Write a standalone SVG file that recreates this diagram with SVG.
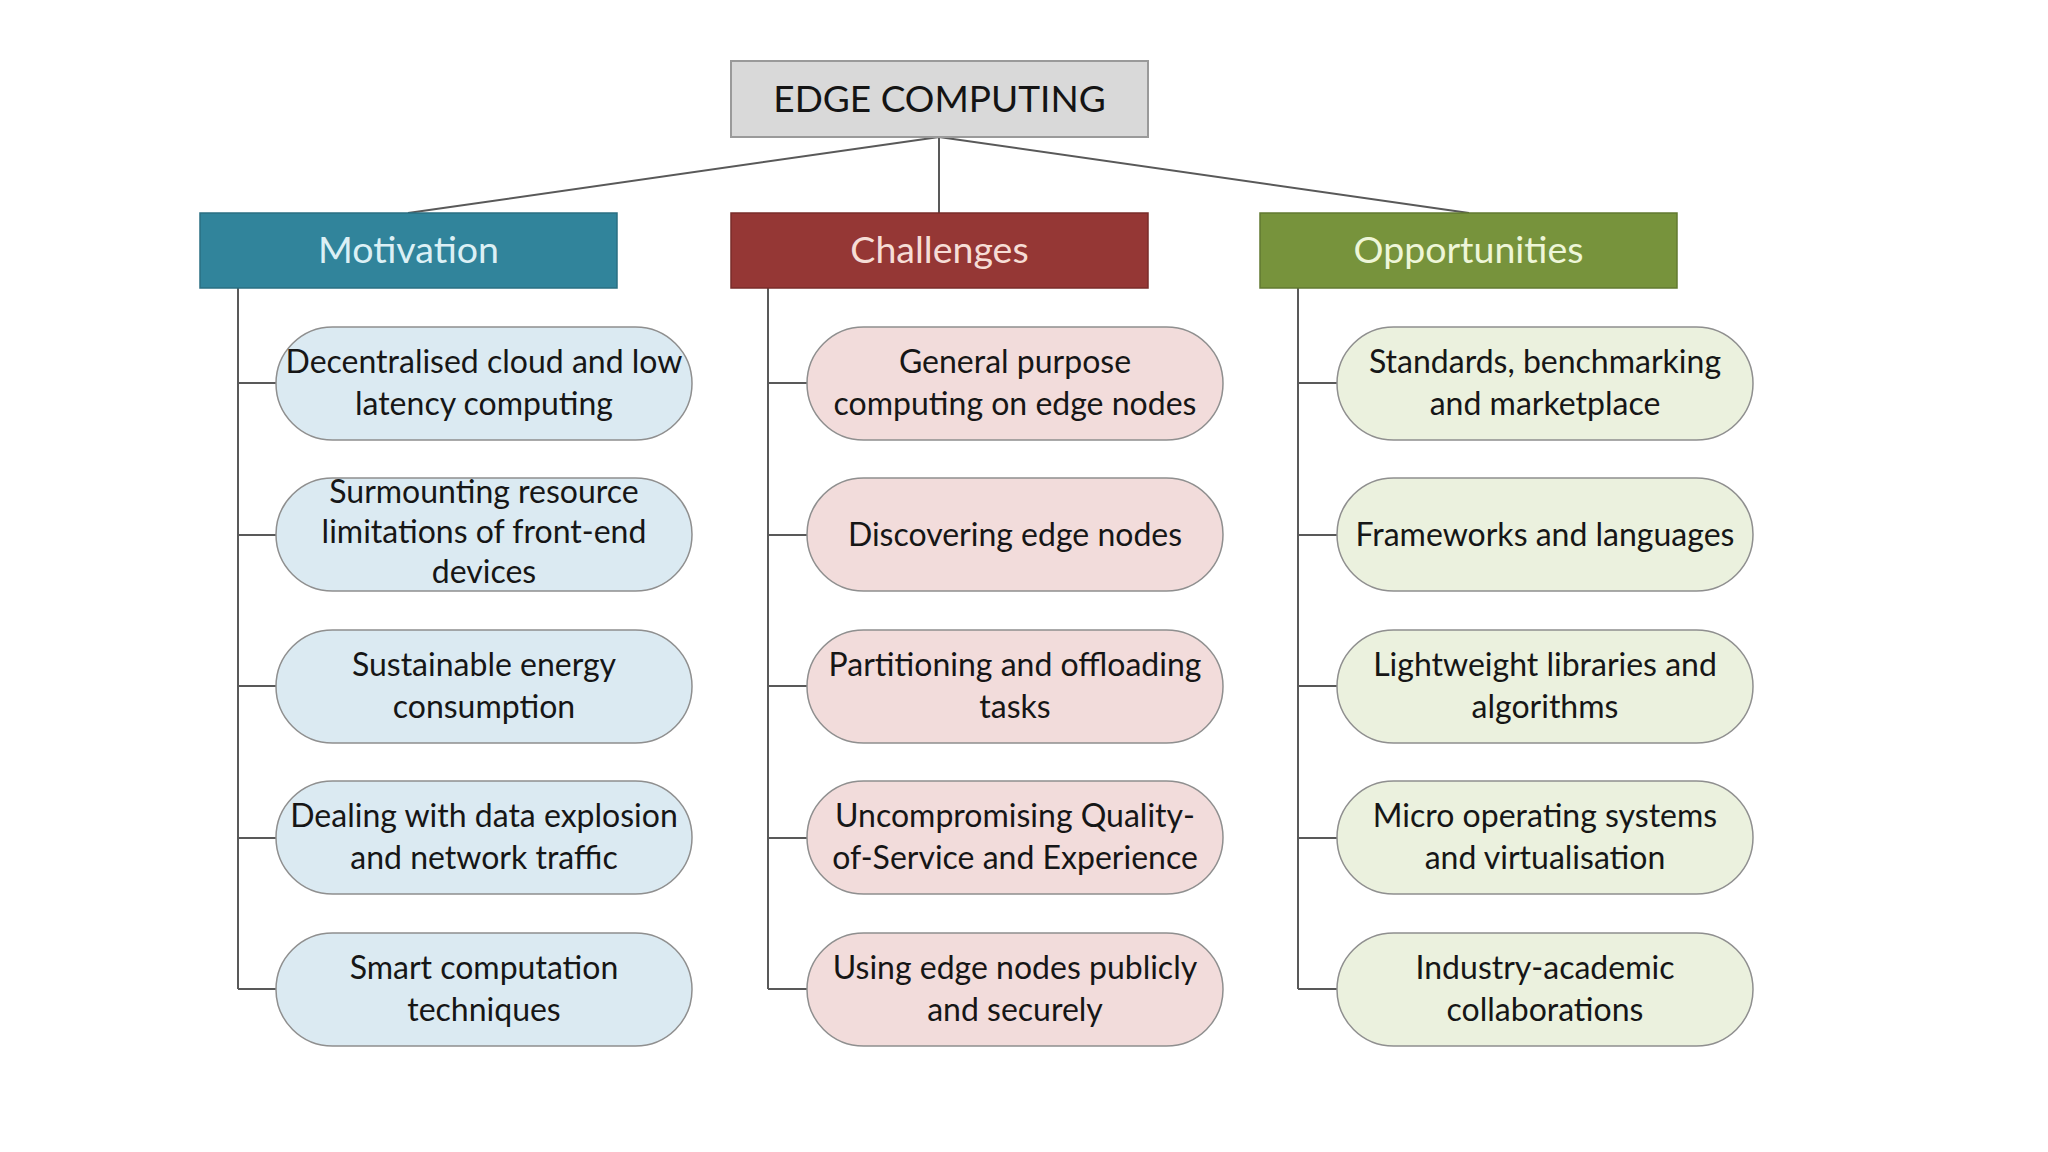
<svg xmlns="http://www.w3.org/2000/svg" width="2048" height="1152" viewBox="0 0 2048 1152">
<style>
.bg{fill:#ffffff}
.conn{fill:none;stroke:#595959;stroke-width:2}
.root{fill:#d9d9d9;stroke:#9a9a9a;stroke-width:2}
.roottxt{font-family:Lato,"Open Sans",sans-serif;font-size:37px;fill:#141414;text-anchor:middle}
.hdr{stroke-width:1.5}
.hdrtxt{font-family:Lato,"Open Sans",sans-serif;font-size:37.5px;text-anchor:middle}
.pill{stroke:#8f8f8f;stroke-width:1.5}
.ptxt{font-family:Lato,"Open Sans",sans-serif;font-size:32px;fill:#161616;text-anchor:middle}
.mot{fill:#31849b;stroke:#2a6f82}
.cha{fill:#953735;stroke:#7a2c2a}
.opp{fill:#77933c;stroke:#627a31}
.pm{fill:#dbeaf2}
.pc{fill:#f2dcdb}
.po{fill:#ebf1de}
</style>
<rect class="bg" x="0" y="0" width="2048" height="1152"/>
<g id="connectors">
<path class="conn" d="M939 137 L408 213 M939 137 L939 213 M939 137 L1469 213"/>
<path class="conn" d="M238 288 V989 M238 383 H276 M238 535 H276 M238 686 H276 M238 838 H276 M238 989 H276"/>
<path class="conn" d="M768 288 V989 M768 383 H807 M768 535 H807 M768 686 H807 M768 838 H807 M768 989 H807"/>
<path class="conn" d="M1298 288 V989 M1298 383 H1337 M1298 535 H1337 M1298 686 H1337 M1298 838 H1337 M1298 989 H1337"/>
</g>
<g id="root">
<rect class="root" x="731" y="61" width="417" height="76"/>
<text class="roottxt" x="939.5" y="112">EDGE COMPUTING</text>
</g>
<g id="motivation">
<rect class="hdr mot" x="200" y="213" width="417" height="75"/>
<text class="hdrtxt" x="408.5" y="263" fill="#dcf0f5">Motivation</text>
</g>
<g id="challenges">
<rect class="hdr cha" x="731" y="213" width="417" height="75"/>
<text class="hdrtxt" x="939.5" y="263" fill="#f6ddd6">Challenges</text>
</g>
<g id="opportunities">
<rect class="hdr opp" x="1260" y="213" width="417" height="75"/>
<text class="hdrtxt" x="1468.5" y="263" fill="#eef6d8">Opportunities</text>
</g>
<g id="m1"><rect class="pill pm" x="276" y="327" width="416" height="113" rx="56.5"/><text class="ptxt" x="484" y="373">Decentralised cloud and low</text><text class="ptxt" x="484" y="415">latency computing</text></g>
<g id="m2"><rect class="pill pm" x="276" y="478" width="416" height="113" rx="56.5"/><text class="ptxt" x="484" y="503">Surmounting resource</text><text class="ptxt" x="484" y="543">limitations of front-end</text><text class="ptxt" x="484" y="583">devices</text></g>
<g id="m3"><rect class="pill pm" x="276" y="630" width="416" height="113" rx="56.5"/><text class="ptxt" x="484" y="676">Sustainable energy</text><text class="ptxt" x="484" y="718">consumption</text></g>
<g id="m4"><rect class="pill pm" x="276" y="781" width="416" height="113" rx="56.5"/><text class="ptxt" x="484" y="827">Dealing with data explosion</text><text class="ptxt" x="484" y="869">and network traffic</text></g>
<g id="m5"><rect class="pill pm" x="276" y="933" width="416" height="113" rx="56.5"/><text class="ptxt" x="484" y="979">Smart computation</text><text class="ptxt" x="484" y="1021">techniques</text></g>
<g id="c1"><rect class="pill pc" x="807" y="327" width="416" height="113" rx="56.5"/><text class="ptxt" x="1015" y="373">General purpose</text><text class="ptxt" x="1015" y="415">computing on edge nodes</text></g>
<g id="c2"><rect class="pill pc" x="807" y="478" width="416" height="113" rx="56.5"/><text class="ptxt" x="1015" y="546">Discovering edge nodes</text></g>
<g id="c3"><rect class="pill pc" x="807" y="630" width="416" height="113" rx="56.5"/><text class="ptxt" x="1015" y="676">Partitioning and offloading</text><text class="ptxt" x="1015" y="718">tasks</text></g>
<g id="c4"><rect class="pill pc" x="807" y="781" width="416" height="113" rx="56.5"/><text class="ptxt" x="1015" y="827">Uncompromising Quality-</text><text class="ptxt" x="1015" y="869">of-Service and Experience</text></g>
<g id="c5"><rect class="pill pc" x="807" y="933" width="416" height="113" rx="56.5"/><text class="ptxt" x="1015" y="979">Using edge nodes publicly</text><text class="ptxt" x="1015" y="1021">and securely</text></g>
<g id="o1"><rect class="pill po" x="1337" y="327" width="416" height="113" rx="56.5"/><text class="ptxt" x="1545" y="373">Standards, benchmarking</text><text class="ptxt" x="1545" y="415">and marketplace</text></g>
<g id="o2"><rect class="pill po" x="1337" y="478" width="416" height="113" rx="56.5"/><text class="ptxt" x="1545" y="546">Frameworks and languages</text></g>
<g id="o3"><rect class="pill po" x="1337" y="630" width="416" height="113" rx="56.5"/><text class="ptxt" x="1545" y="676">Lightweight libraries and</text><text class="ptxt" x="1545" y="718">algorithms</text></g>
<g id="o4"><rect class="pill po" x="1337" y="781" width="416" height="113" rx="56.5"/><text class="ptxt" x="1545" y="827">Micro operating systems</text><text class="ptxt" x="1545" y="869">and virtualisation</text></g>
<g id="o5"><rect class="pill po" x="1337" y="933" width="416" height="113" rx="56.5"/><text class="ptxt" x="1545" y="979">Industry-academic</text><text class="ptxt" x="1545" y="1021">collaborations</text></g>
</svg>
